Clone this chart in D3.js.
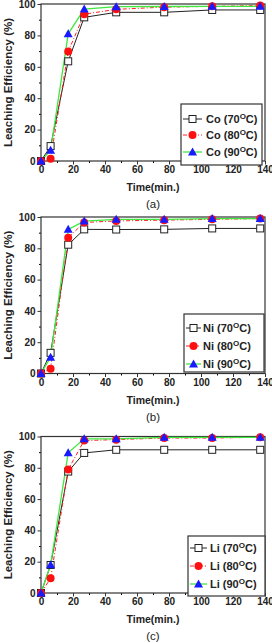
<!DOCTYPE html>
<html>
<head>
<meta charset="utf-8">
<script src="https://cdn.jsdelivr.net/npm/d3@7"></script>
<style>
  body { margin: 0; background: #fff; }
  svg { display: block; font-family: "Liberation Sans", Arial, sans-serif; }
</style>
</head>
<body>
<div id="chart"></div>
<script>
// sampling times (min.)
var times = [0, 6, 17, 27, 47, 77, 107, 137];

// leaching efficiency (%) per metal and temperature
var co70 = [0, 9.5, 63.5, 91.5, 94.7, 94.7, 96.2, 96.2];
var co80 = [0, 1.5, 69.7, 93.5, 96.6, 98, 98.5, 99];
var co90 = [0, 6.8, 81, 96.8, 98.3, 98.4, 98.5, 98.5];

var ni70 = [0, 13.2, 82.3, 92.1, 92, 92.1, 92.7, 92.7];
var ni80 = [0, 3, 86.8, 96.5, 97.5, 98, 98.5, 99];
var ni90 = [0, 10.4, 92.1, 97.4, 98.5, 98.5, 99, 99];

var li70 = [0, 17.9, 77.6, 89.5, 91.5, 91.5, 91.5, 91.5];
var li80 = [0, 9.4, 78.9, 97.4, 98, 99, 99, 99.5];
var li90 = [0, 18, 89.6, 98.5, 98.5, 99.5, 99.5, 99.5];

var temps = ["70", "80", "90"];
var xTicks = [0, 20, 40, 60, 80, 100, 120, 140];
var yTicks = [0, 20, 40, 60, 80, 100];

var panels = [
    {metal: "Co", tag: "(a)", series: [co70, co80, co90], top: 4, bottom: 161,
     legend: {x: 181, y: 104, w: 81, h: 61, rows: [119, 135, 152], line: [183, 202], text: 206}},
    {metal: "Ni", tag: "(b)", series: [ni70, ni80, ni90], top: 217, bottom: 373.5,
     legend: {x: 184, y: 314, w: 80, h: 58, rows: [328, 346, 364], line: [186, 201], text: 203}},
    {metal: "Li", tag: "(c)", series: [li70, li80, li90], top: 436.5, bottom: 593,
     legend: {x: 188, y: 536, w: 77, h: 60, rows: [548, 566, 584], line: [190, 207], text: 210}}
];

var styles = [
    {stroke: "#222", dash: null, width: 1, marker: "square"},
    {stroke: "#ff2020", dash: "4,2,1,2", width: 1, marker: "circle"},
    {stroke: "#3fe83f", dash: null, width: 1.3, marker: "triangle"}
];

var WIDTH = 272, HEIGHT = 643, LEFT = 41, RIGHT = 265;

var svg = d3.select("#chart").append("svg")
    .attr("width", WIDTH)
    .attr("height", HEIGHT);

function drawMarker(g, type, cx, cy) {
    if (type === "square") {
        g.append("rect").attr("x", cx - 3.5).attr("y", cy - 3.5)
            .attr("width", 7).attr("height", 7)
            .attr("fill", "#fff").attr("stroke", "#222").attr("stroke-width", 1);
    } else if (type === "circle") {
        g.append("circle").attr("cx", cx).attr("cy", cy).attr("r", 4)
            .attr("fill", "#ff1010");
    } else {
        g.append("path")
            .attr("d", "M" + cx + "," + (cy - 4.5) + "L" + (cx + 4.5) + "," + (cy + 3.5) + "L" + (cx - 4.5) + "," + (cy + 3.5) + "Z")
            .attr("fill", "#1a1aff");
    }
}

panels.forEach(function (p) {
    var x = d3.scaleLinear().domain([0, 140]).range([LEFT, RIGHT]);
    var y = d3.scaleLinear().domain([0, 100]).range([p.bottom, p.top]);
    var g = svg.append("g");

    // minor ticks
    g.append("g").attr("transform", "translate(0," + p.bottom + ")")
        .call(d3.axisBottom(x).tickValues(d3.range(10, 140, 20)).tickSize(2).tickFormat(""))
        .call(function (a) { a.select(".domain").remove(); });
    g.append("g").attr("transform", "translate(" + LEFT + ",0)")
        .call(d3.axisLeft(y).tickValues(d3.range(10, 100, 20)).tickSize(2).tickFormat(""))
        .call(function (a) { a.select(".domain").remove(); });

    var xa = g.append("g").attr("transform", "translate(0," + p.bottom + ")")
        .call(d3.axisBottom(x).tickValues(xTicks).tickSize(3.5).tickPadding(1.5));
    var ya = g.append("g").attr("transform", "translate(" + LEFT + ",0)")
        .call(d3.axisLeft(y).tickValues(yTicks).tickSize(3.5).tickPadding(2));
    [xa, ya].forEach(function (a) {
        a.select(".domain").remove();
        a.selectAll("text").attr("font-size", 10).attr("font-weight", "bold").attr("fill", "#222")
            .attr("font-family", "Liberation Sans, Arial, sans-serif");
        a.selectAll("line").attr("stroke", "#333");
    });

    // frame
    g.append("rect").attr("x", LEFT).attr("y", p.top)
        .attr("width", RIGHT - LEFT).attr("height", p.bottom - p.top)
        .attr("fill", "none").attr("stroke", "#333").attr("stroke-width", 1.2);

    var line = d3.line().x(function (d, i) { return x(times[i]); }).y(function (d) { return y(d); });

    p.series.forEach(function (s, k) {
        var st = styles[k];
        g.append("path").datum(s).attr("d", line)
            .attr("fill", "none").attr("stroke", st.stroke).attr("stroke-width", st.width)
            .attr("stroke-dasharray", st.dash);
    });
    p.series.forEach(function (s, k) {
        var mg = g.append("g");
        s.forEach(function (v, i) { drawMarker(mg, styles[k].marker, x(times[i]), y(v)); });
    });

    // legend
    var L = p.legend;
    var lg = g.append("g");
    lg.append("rect").attr("x", L.x).attr("y", L.y).attr("width", L.w).attr("height", L.h)
        .attr("fill", "#fff").attr("stroke", "#333").attr("stroke-width", 1.2);
    temps.forEach(function (t, k) {
        var st = styles[k], ry = L.rows[k];
        lg.append("line").attr("x1", L.line[0]).attr("x2", L.line[1]).attr("y1", ry).attr("y2", ry)
            .attr("stroke", st.stroke).attr("stroke-width", st.width).attr("stroke-dasharray", st.dash);
        drawMarker(lg, st.marker, (L.line[0] + L.line[1]) / 2, ry);
        var tx = lg.append("text").attr("x", L.text).attr("y", ry + 4)
            .attr("font-size", 11).attr("font-weight", "bold").attr("fill", "#222");
        tx.append("tspan").text(p.metal + " (" + t);
        tx.append("tspan").attr("font-size", 8).attr("dy", -4).text("O");
        tx.append("tspan").attr("dy", 4).text("C)");
    });

    // axis titles
    g.append("text").attr("x", (LEFT + RIGHT) / 2).attr("y", p.bottom + 30)
        .attr("text-anchor", "middle").attr("font-size", 10.5).attr("font-weight", "bold")
        .attr("fill", "#222").text("Time(min.)");
    g.append("text")
        .attr("transform", "translate(12," + (p.top + p.bottom) / 2 + ") rotate(-90)")
        .attr("text-anchor", "middle").attr("font-size", 11.5).attr("font-weight", "bold")
        .attr("fill", "#222").text("Leaching Efficiency (%)");
    g.append("text").attr("x", (LEFT + RIGHT) / 2).attr("y", p.bottom + 47)
        .attr("text-anchor", "middle").attr("font-size", 11.5)
        .attr("fill", "#222").text(p.tag);
});
</script>
</body>
</html>
